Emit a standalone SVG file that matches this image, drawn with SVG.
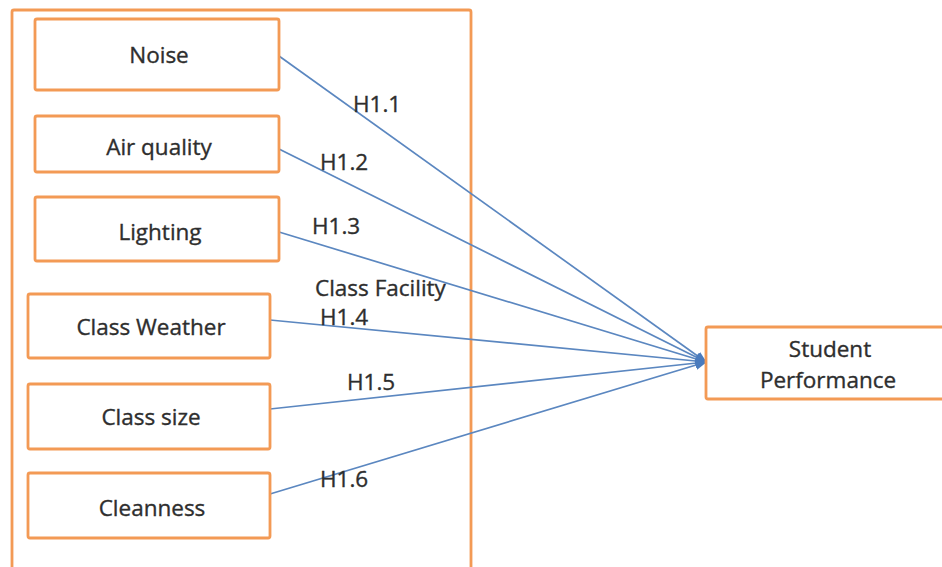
<svg xmlns="http://www.w3.org/2000/svg" width="942" height="567" viewBox="0 0 942 567">
  <style>
    .box { fill: #ffffff; stroke: #f39a55; stroke-width: 2.8; }
    .frame { fill: none; stroke: #f39a55; stroke-width: 2.8; }
    .lbl { font-family: "Open Sans", "Liberation Sans", sans-serif; font-size: 22.5px; fill: #2e2e2e; stroke: #2e2e2e; stroke-width: 0.35; }
    .mid { text-anchor: middle; }
    .edge { fill: none; stroke: #5b87c0; stroke-width: 1.7; }
  </style>
  <defs>
    <marker id="arrow" viewBox="0 0 10 10" refX="9" refY="5" markerWidth="7" markerHeight="7" orient="auto" markerUnits="strokeWidth">
      <path d="M0,1 L10,5 L0,9 z" fill="#4a7bbd"/>
    </marker>
  </defs>

  <rect width="942" height="567" fill="#ffffff"/>

  <!-- outer grouping frame for the class facility factors -->
  <g id="class-facility">
    <rect class="frame" x="12" y="10" width="459" height="570" rx="2"/>
  </g>

  <!-- connectors -->
  <g id="connectors">
    <line class="edge" x1="279" y1="56" x2="706" y2="362" marker-end="url(#arrow)"/>
    <line class="edge" x1="279" y1="149" x2="706" y2="362" marker-end="url(#arrow)"/>
    <line class="edge" x1="279" y1="232" x2="706" y2="362" marker-end="url(#arrow)"/>
    <line class="edge" x1="270" y1="320" x2="706" y2="362" marker-end="url(#arrow)"/>
    <line class="edge" x1="270" y1="409" x2="706" y2="362" marker-end="url(#arrow)"/>
    <line class="edge" x1="270" y1="494" x2="706" y2="362" marker-end="url(#arrow)"/>
  </g>

  <!-- connector labels -->
  <g id="edge-labels">
    <text class="lbl" x="353" y="112">H1.1</text>
    <text class="lbl" x="320" y="170">H1.2</text>
    <text class="lbl" x="312" y="234">H1.3</text>
    <text class="lbl" x="315" y="296">Class Facility</text>
    <text class="lbl" x="320" y="325">H1.4</text>
    <text class="lbl" x="347" y="390">H1.5</text>
    <text class="lbl" x="320" y="487">H1.6</text>
  </g>

  <g id="noise">
    <rect class="box" x="35" y="19" width="244" height="71" rx="2"/>
    <text class="lbl mid" x="159" y="63">Noise</text>
  </g>
  <g id="air-quality">
    <rect class="box" x="35" y="116" width="244" height="56" rx="2"/>
    <text class="lbl mid" x="159" y="155">Air quality</text>
  </g>
  <g id="lighting">
    <rect class="box" x="35" y="197" width="244" height="64" rx="2"/>
    <text class="lbl mid" x="160" y="240">Lighting</text>
  </g>
  <g id="class-weather">
    <rect class="box" x="28" y="294" width="242" height="64" rx="2"/>
    <text class="lbl mid" x="151" y="335">Class Weather</text>
  </g>
  <g id="class-size">
    <rect class="box" x="28" y="384" width="242" height="65" rx="2"/>
    <text class="lbl mid" x="151" y="425">Class size</text>
  </g>
  <g id="cleanness">
    <rect class="box" x="28" y="473" width="242" height="65" rx="2"/>
    <text class="lbl mid" x="152" y="516">Cleanness</text>
  </g>
  <g id="student-performance">
    <rect class="box" x="706" y="327" width="240" height="72" rx="2"/>
    <text class="lbl mid" x="830" y="357">Student</text>
    <text class="lbl mid" x="828" y="388">Performance</text>
  </g>
</svg>
